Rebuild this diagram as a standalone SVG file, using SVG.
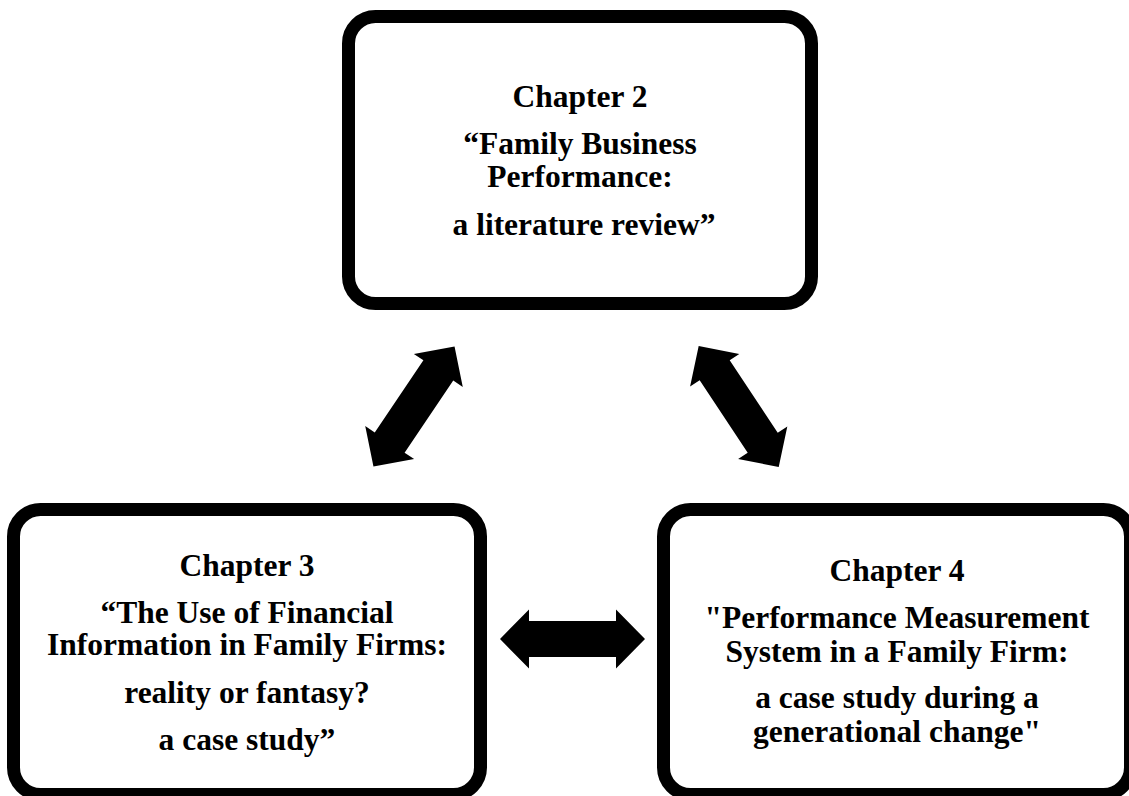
<svg xmlns="http://www.w3.org/2000/svg" width="1129" height="796" viewBox="0 0 1129 796">
<style>
.box{fill:#fff;stroke:#000;stroke-width:13}
.t{font-family:"Liberation Serif","Times New Roman",serif;font-weight:bold;font-size:31.5px;fill:#000;text-anchor:middle}
.arr{fill:#000}
</style>
<defs>
<path id="dbl" d="M -72.5,0 L -43.5,-29.5 L -43.5,-18 L 43.5,-18 L 43.5,-29.5 L 72.5,0 L 43.5,29.5 L 43.5,18 L -43.5,18 L -43.5,29.5 Z"/>
</defs>
<rect width="1129" height="796" fill="#fff"/>
<g id="connectors">
<use href="#dbl" class="arr" transform="translate(414,406.5) rotate(-56)"/>
<use href="#dbl" class="arr" transform="translate(738.7,406.5) rotate(56.5)"/>
<use href="#dbl" class="arr" transform="translate(572.5,639)"/>
</g>
<g id="chapter2">
<rect class="box" x="348.5" y="16.5" width="463" height="287" rx="27" ry="27"/>
<text class="t" x="580" y="107">Chapter 2</text>
<text class="t" x="580" y="154">“Family Business</text>
<text class="t" x="580" y="187">Performance:</text>
<text class="t" x="584" y="235">a literature review”</text>
</g>
<g id="chapter3">
<rect class="box" x="13.5" y="509.5" width="467" height="285" rx="27" ry="27"/>
<text class="t" x="247" y="576">Chapter 3</text>
<text class="t" x="247" y="623">“The Use of Financial</text>
<text class="t" x="247" y="655">Information in Family Firms:</text>
<text class="t" x="247" y="703">reality or fantasy?</text>
<text class="t" x="247" y="750">a case study”</text>
</g>
<g id="chapter4">
<rect class="box" x="663.5" y="509.5" width="467" height="285" rx="27" ry="27"/>
<text class="t" x="897" y="581">Chapter 4</text>
<text class="t" x="897" y="628">"Performance Measurement</text>
<text class="t" x="897" y="662">System in a Family Firm:</text>
<text class="t" x="897" y="708">a case study during a</text>
<text class="t" x="897" y="742">generational change"</text>
</g>
</svg>
